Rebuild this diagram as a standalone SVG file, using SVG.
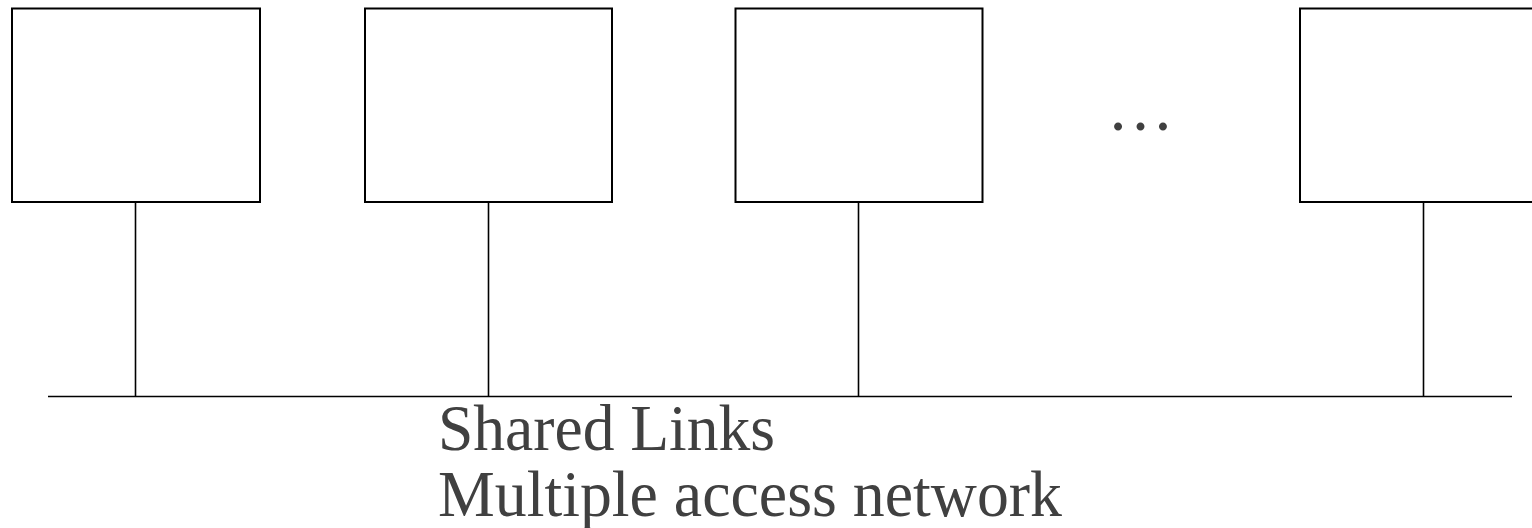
<svg xmlns="http://www.w3.org/2000/svg" width="1532" height="528" viewBox="0 0 1532 528">
<style>
.node{fill:#fff;stroke:#000;stroke-width:2}
.link{stroke:#000;stroke-width:1.6;fill:none}
.lbl{font-family:"Liberation Serif","Times New Roman",serif;font-size:66px;fill:#404040}
</style>
<rect width="1532" height="528" fill="#fff"/>
<g id="connectors">
<line class="link" x1="48" y1="396.5" x2="1512" y2="396.5"/>
<line class="link" x1="135.5" y1="202" x2="135.5" y2="396"/>
<line class="link" x1="488.5" y1="202" x2="488.5" y2="396"/>
<line class="link" x1="858.5" y1="202" x2="858.5" y2="396"/>
<line class="link" x1="1423.5" y1="202" x2="1423.5" y2="396"/>
</g>
<g id="node1"><rect class="node" x="12" y="8.5" width="248" height="193.5"/></g>
<g id="node2"><rect class="node" x="365" y="8.5" width="247" height="193.5"/></g>
<g id="node3"><rect class="node" x="735.5" y="8.5" width="247" height="193.5"/></g>
<g id="ellipsis"><text class="lbl" x="1107" y="130" style="font-size:67px">…</text></g>
<g id="node4"><rect class="node" x="1300" y="8.5" width="248" height="193.5"/></g>
<g id="label">
<text class="lbl" x="438" y="450" textLength="337" lengthAdjust="spacingAndGlyphs">Shared Links</text>
<text class="lbl" x="438" y="516" textLength="624" lengthAdjust="spacingAndGlyphs">Multiple access network</text>
</g>
</svg>
